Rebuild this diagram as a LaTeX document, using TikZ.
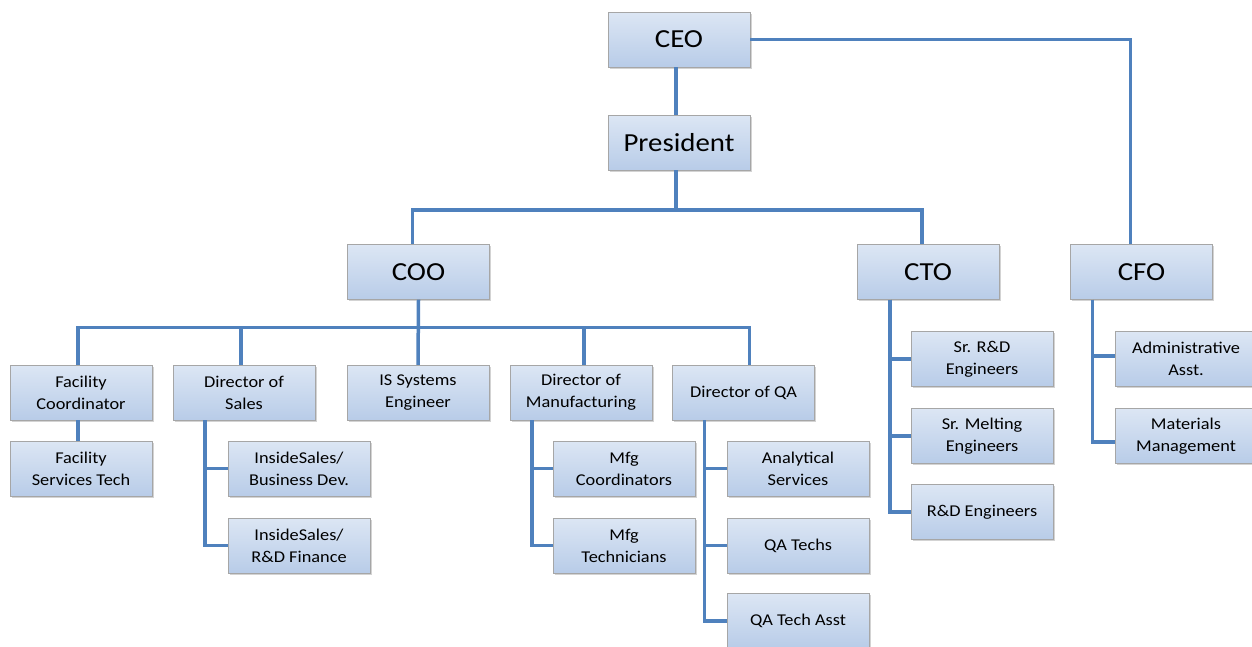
\documentclass[tikz,border=0pt]{standalone}
\usepackage{fontspec}
\setmainfont{Carlito}[FakeStretch=1.11]
\usepackage{tikz}
\usetikzlibrary{shadows}
\definecolor{linkblue}{HTML}{4F81BD}
\definecolor{boxtop}{HTML}{DCE6F4}
\definecolor{boxbot}{HTML}{B8CCE8}
\definecolor{boxline}{HTML}{A6A6A6}

\begin{document}
\begin{tikzpicture}[x=1pt, y=-1pt,
		main/.style={draw=boxline, rectangle, top color=boxtop, bottom color=boxbot, align=center, inner sep=2pt,
			drop shadow={shadow xshift=1.5pt, shadow yshift=-1.5pt, opacity=.35, fill=black!50}},
		head/.style={main, minimum width=142pt, minimum height=55pt, font=\fontsize{26}{30}\selectfont},
		unit/.style={main, minimum width=142pt, minimum height=55pt, font=\fontsize{16.5}{22}\selectfont},
		link/.style={linkblue, line width=3.5pt}]
		\useasboundingbox (0,0) rectangle (1252,646);

		% top levels
		\node[head] (ceo) at (679,39.5) {CEO};
		\node[head] (pres) at (679,142.5) {President};
		\node[head] (coo) at (418.5,272) {COO};
		\node[head] (cto) at (928,272) {CTO};
		\node[head] (cfo) at (1141.5,272) {CFO};

		% under COO
		\node[unit] (fac) at (81,392.5) {Facility\\Coordinator};
		\node[unit] (dsales) at (244,392.5) {Director of\\Sales};
		\node[unit] (issys) at (418,392.5) {IS Systems\\Engineer};
		\node[unit] (dmfg) at (581,392.5) {Director of\\Manufacturing};
		\node[unit] (dqa) at (743.5,392.5) {Director of QA};

		\node[unit] (facst) at (81,468.5) {Facility\\Services Tech};
		\node[unit] (isbd) at (299,468.5) {InsideSales/\\Business Dev.};
		\node[unit] (isrd) at (299,545.5) {InsideSales/\\R\&D Finance};
		\node[unit] (mfgco) at (624,468.5) {Mfg\\Coordinators};
		\node[unit] (mfgte) at (624,545.5) {Mfg\\Technicians};
		\node[unit] (anserv) at (798,468.5) {Analytical\\Services};
		\node[unit] (qatech) at (798,545.5) {QA Techs};
		\node[unit] (qaasst) at (798,621) {QA Tech Asst};

		% under CTO and CFO
		\node[unit] (srrd) at (982,359) {Sr. R\&D\\Engineers};
		\node[unit] (srmelt) at (982,436) {Sr. Melting\\Engineers};
		\node[unit] (rdeng) at (982,512) {R\&D Engineers};
		\node[unit] (admin) at (1186,359) {Administrative\\Asst.};
		\node[unit] (mat) at (1186,436) {Materials\\Management};

		\draw[link] ([xshift=-3pt]ceo.south) -- ([xshift=-3pt]pres.north);
		\draw[link] (ceo.east) -| ([xshift=-11pt]cfo.north);
		\draw[link] ([xshift=-3pt]pres.south) -- ++(0,40) -| ([xshift=-6pt]coo.north);
		\draw[link] ([xshift=-3pt]pres.south) ++(0,40) -| ([xshift=-6pt]cto.north);

		\draw[link] (coo.south) -- ++(0,28) -| ([xshift=-3pt]fac.north);
		\draw[link] (coo.south) ++(0,28) -| ([xshift=-3pt]dsales.north);
		\draw[link] (coo.south) -- (issys.north);
		\draw[link] (coo.south) ++(0,28) -| ([xshift=3pt]dmfg.north);
		\draw[link] (coo.south) ++(0,28) -| ([xshift=6pt]dqa.north);

		\draw[link] ([xshift=-3pt]fac.south) -- ([xshift=-3pt]facst.north);
		\draw[link] ([xshift=32pt]dsales.south west) |- (isbd.west);
		\draw[link] ([xshift=32pt]dsales.south west) |- (isrd.west);
		\draw[link] ([xshift=22pt]dmfg.south west) |- (mfgco.west);
		\draw[link] ([xshift=22pt]dmfg.south west) |- (mfgte.west);
		\draw[link] ([xshift=32pt]dqa.south west) |- (anserv.west);
		\draw[link] ([xshift=32pt]dqa.south west) |- (qatech.west);
		\draw[link] ([xshift=32pt]dqa.south west) |- (qaasst.west);

		\draw[link] ([xshift=33pt]cto.south west) |- (srrd.west);
		\draw[link] ([xshift=33pt]cto.south west) |- (srmelt.west);
		\draw[link] ([xshift=33pt]cto.south west) |- (rdeng.west);
		\draw[link] ([xshift=22pt]cfo.south west) |- ([yshift=3pt]admin.west);
		\draw[link] ([xshift=22pt]cfo.south west) |- ([yshift=-6pt]mat.west);
	\end{tikzpicture}
\end{document}
